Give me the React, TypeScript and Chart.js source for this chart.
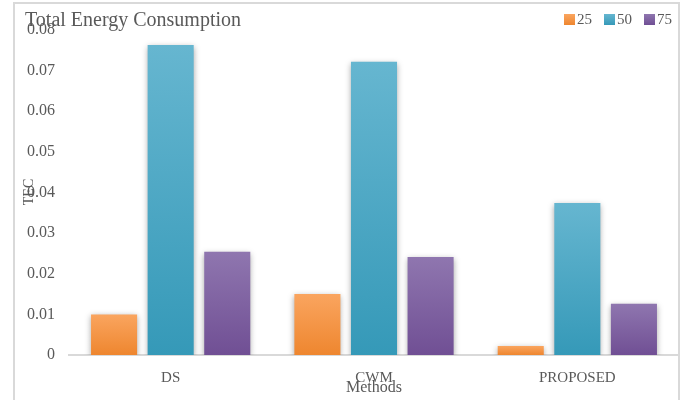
import React, { useEffect, useRef } from "react";
import { Chart, registerables } from "chart.js";

Chart.register(...registerables);

const categories = ["DS", "CWM", "PROPOSED"];
const seriesLabels = ["25", "50", "75"];
const values25 = [0.01, 0.015, 0.0022];
const values50 = [0.0763, 0.0722, 0.0374];
const values75 = [0.0254, 0.0241, 0.0126];
const yMax = 0.08;
const yStep = 0.01;

const chartTitle = "Total Energy Consumption";
const yTitle = "TEC";
const xTitle = "Methods";

const FONT = "'Liberation Serif', 'DejaVu Serif', serif";
const TEXT = "#595959";
const RULE = "#d9d9d9";

// top / bottom colour stops for each series
const gradStops: [string, string][] = [
  ["#faa55f", "#ee862f"],
  ["#66b6d0", "#3599b8"],
  ["#8f76af", "#704f94"],
];

function barFill(idx: number) {
  return (ctx: any) => {
    const chart = ctx.chart;
    const y = chart.scales?.y;
    if (!y || ctx.raw == null) return gradStops[idx][1];
    const top = y.getPixelForValue(ctx.raw);
    const base = y.getPixelForValue(0);
    if (!isFinite(top) || !isFinite(base) || top === base) return gradStops[idx][1];
    const g = chart.ctx.createLinearGradient(0, top, 0, base);
    g.addColorStop(0, gradStops[idx][0]);
    g.addColorStop(1, gradStops[idx][1]);
    return g;
  };
}

const barShadow = {
  id: "barShadow",
  beforeDatasetsDraw(chart: any) {
    const c = chart.ctx;
    c.save();
    c.shadowColor = "rgba(0,0,0,0.35)";
    c.shadowBlur = 6;
    c.shadowOffsetX = 0;
    c.shadowOffsetY = 2;
  },
  afterDatasetsDraw(chart: any) {
    chart.ctx.restore();
  },
};

const decor = {
  id: "decor",
  beforeDraw(chart: any) {
    const c = chart.ctx;
    c.save();
    c.fillStyle = "#ffffff";
    c.fillRect(0, 0, chart.width, chart.height);
    c.strokeStyle = RULE;
    c.lineWidth = 2;
    c.beginPath();
    c.moveTo(14, chart.height);
    c.lineTo(14, 3);
    c.lineTo(679, 3);
    c.lineTo(679, chart.height);
    c.stroke();
    c.restore();
  },
  afterDraw(chart: any) {
    const c = chart.ctx;
    c.save();
    c.fillStyle = TEXT;
    // chart title
    c.font = `20px ${FONT}`;
    c.textAlign = "left";
    c.textBaseline = "alphabetic";
    c.fillText(chartTitle, 25, 26);

    // x axis title
    c.font = `16px ${FONT}`;
    c.textAlign = "center";
    c.textBaseline = "middle";
    const area = chart.chartArea;
    c.fillText(xTitle, (area.left + area.right) / 2, 388);

    // y axis title
    c.save();
    c.translate(29, 192);
    c.rotate(-Math.PI / 2);
    c.font = `14px ${FONT}`;
    c.fillText(yTitle, 0, 0);
    c.restore();

    // legend
    c.font = `15px ${FONT}`;
    c.textAlign = "left";
    c.textBaseline = "middle";
    const sw = 11;
    let x = 564;
    chart.data.datasets.forEach((ds: any, i: number) => {
      const g = c.createLinearGradient(0, 14, 0, 25);
      g.addColorStop(0, gradStops[i][0]);
      g.addColorStop(1, gradStops[i][1]);
      c.fillStyle = g;
      c.fillRect(x, 14, sw, sw);
      c.fillStyle = TEXT;
      c.fillText(ds.label, x + sw + 2, 20);
      x += sw + 2 + c.measureText(ds.label).width + 12;
    });
    c.restore();
  },
};

export default function App() {
  const ref = useRef<HTMLCanvasElement>(null);

  useEffect(() => {
    if (!ref.current) return;
    const seriesValues = [values25, values50, values75];
    const chart = new Chart(ref.current, {
      type: "bar",
      data: {
        labels: categories,
        datasets: seriesValues.map((vals, i) => ({
          label: seriesLabels[i],
          data: vals,
          backgroundColor: barFill(i),
          borderWidth: 0,
          categoryPercentage: 0.835,
          barPercentage: 0.814,
        })),
      },
      options: {
        animation: false,
        responsive: false,
        devicePixelRatio: 1,
        layout: { padding: { top: 30, right: 6, left: 0, bottom: 0 } },
        plugins: {
          legend: { display: false },
          title: { display: false },
          tooltip: { enabled: false },
        },
        scales: {
          x: {
            grid: { display: false },
            border: { display: true, color: RULE, width: 2 },
            ticks: {
              color: TEXT,
              font: { family: FONT, size: 15 },
              padding: 6,
            },
            afterFit: (s: any) => {
              s.height = 45;
            },
          },
          y: {
            min: 0,
            max: yMax,
            grid: { display: false },
            border: { display: false },
            ticks: {
              stepSize: yStep,
              color: TEXT,
              font: { family: FONT, size: 16 },
              padding: 6,
              callback: (v: any) => (Number(v) === 0 ? "0" : Number(v).toFixed(2)),
            },
            afterFit: (s: any) => {
              s.width = 69;
            },
          },
        },
      },
      plugins: [decor, barShadow],
    });
    return () => chart.destroy();
  }, []);

  return (
    <div style={{ position: "fixed", left: 0, top: 0, width: 685, height: 400, background: "#fff" }}>
      <canvas ref={ref} width={685} height={400} />
    </div>
  );
}
